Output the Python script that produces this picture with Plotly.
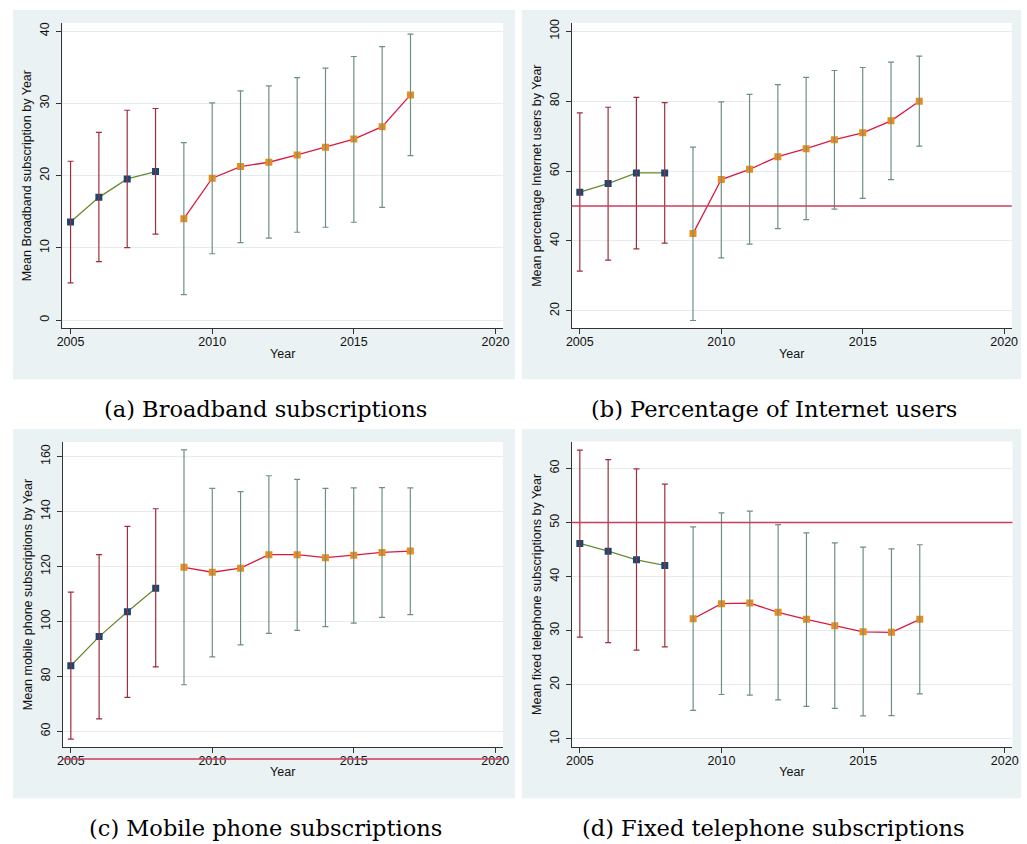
import plotly.graph_objects as go

years = [2005, 2006, 2007, 2008, 2009, 2010, 2011, 2012, 2013, 2014, 2015, 2016, 2017]
split_year = 2008  # first period ends here

# (a) Broadband subscriptions
bb_mean = [13.6, 17.0, 19.55, 20.57, 14.05, 19.65, 21.26, 21.86, 22.87, 23.93, 25.07, 26.78, 31.18]
bb_hi = [22.0, 26.0, 29.06, 29.3, 24.57, 30.08, 31.73, 32.42, 33.57, 34.9, 36.5, 37.88, 39.59]
bb_lo = [5.15, 8.1, 10.05, 11.9, 3.54, 9.19, 10.74, 11.35, 12.17, 12.86, 13.55, 15.62, 22.78]

# (b) Percentage of Internet users
iu_mean = [53.97, 56.44, 59.46, 59.46, 42.1, 57.58, 60.5, 64.13, 66.4, 68.97, 70.96, 74.38, 79.96]
iu_hi = [76.65, 78.26, 81.1, 79.59, 66.86, 79.78, 81.96, 84.71, 86.8, 88.78, 89.64, 91.17, 92.88]
iu_lo = [31.39, 34.52, 37.74, 39.36, 17.24, 35.17, 39.07, 43.52, 46.08, 49.12, 52.17, 57.58, 67.15]

# (c) Mobile phone subscriptions
mp_mean = [83.9, 94.5, 103.5, 112.1, 119.7, 117.9, 119.4, 124.3, 124.3, 123.2, 124.1, 125.1, 125.6]
mp_hi = [110.67, 124.3, 134.6, 141.0, 162.4, 148.4, 147.2, 153.0, 151.7, 148.4, 148.6, 148.7, 148.6]
mp_lo = [57.2, 64.6, 72.4, 83.5, 77.0, 87.1, 91.5, 95.7, 96.8, 98.1, 99.4, 101.5, 102.5]

# (d) Fixed telephone subscriptions
ft_mean = [46.13, 44.7, 43.1, 42.08, 32.2, 35.0, 35.1, 33.4, 32.1, 30.9, 29.8, 29.7, 32.1]
ft_hi = [63.4, 61.65, 59.93, 57.1, 49.2, 51.8, 52.1, 49.6, 48.1, 46.26, 45.45, 45.15, 45.9]
ft_lo = [28.83, 27.8, 26.4, 27.0, 15.27, 18.2, 18.1, 17.2, 16.0, 15.63, 14.23, 14.3, 18.3]

ref_value = 50

panels = [
    dict(mean=bb_mean, hi=bb_hi, lo=bb_lo, ytitle="Mean Broadband subscription by Year",
         yticks=[0, 10, 20, 30, 40], yrange=[-1.15, 41.15], ref=False,
         caption="(a) Broadband subscriptions"),
    dict(mean=iu_mean, hi=iu_hi, lo=iu_lo, ytitle="Mean percentage Internet users by Year",
         yticks=[20, 40, 60, 80, 100], yrange=[14.96, 102.4], ref=True,
         caption="(b) Percentage of Internet users"),
    dict(mean=mp_mean, hi=mp_hi, lo=mp_lo, ytitle="Mean mobile phone subscriptions by Year",
         yticks=[60, 80, 100, 120, 140, 160], yrange=[54.3, 165.3], ref=True,
         caption="(c) Mobile phone subscriptions"),
    dict(mean=ft_mean, hi=ft_hi, lo=ft_lo, ytitle="Mean fixed telephone subscriptions by Year",
         yticks=[10, 20, 30, 40, 50, 60], yrange=[8.46, 64.97], ref=True,
         caption="(d) Fixed telephone subscriptions"),
]

W, H = 1027, 844
# pixel boxes: plot area (x0, x1, ytop, ybottom) and background region
plot_boxes = [(57, 503, 19, 326), (572.3, 1017.7, 19, 326),
              (57.3, 502.7, 440, 746.7), (572.3, 1018.3, 439.7, 746.7)]
bg_boxes = [(7, 515, 6, 377), (522, 1027, 6, 377), (7, 515, 427, 798), (522, 1027, 427, 798)]
caption_pos = [(263, 407), (777, 407), (263, 828), (777, 828)]

NAVY = "#1a476f"
OLIVE = "#6a8a2e"
ORANGE = "#ea8d1e"
CRIMSON = "#d81b45"
BAR_RED = "#9e2f3a"
BAR_GREEN = "#6f8f84"
REF = "#cc3d5c"
BG = "#eaf2f3"
GRID = "#e4eced"
AXC = "#333333"
FONT = "Liberation Sans"

fig = go.Figure()
shapes = []
annotations = []

for i, p in enumerate(panels):
    n = "" if i == 0 else str(i + 1)
    xa, ya = "x" + n, "y" + n
    first = [k for k, yr in enumerate(years) if yr <= split_year]
    second = [k for k, yr in enumerate(years) if yr > split_year]

    for idx, mcol, lcol in [(first, NAVY, OLIVE), (second, ORANGE, CRIMSON)]:
        xs = [years[k] for k in idx]
        ys = [p["mean"][k] for k in idx]
        fig.add_trace(go.Scatter(
            x=xs, y=ys, xaxis=xa, yaxis=ya, mode="lines+markers",
            line=dict(color=lcol, width=1.3),
            marker=dict(symbol="square", size=7, color=mcol, line=dict(width=0)),
            showlegend=False, hoverinfo="skip"))
    for idx, bcol in [(first, BAR_RED), (second, BAR_GREEN)]:
        xs = [years[k] for k in idx]
        ys = [p["mean"][k] for k in idx]
        up = [p["hi"][k] - p["mean"][k] for k in idx]
        dn = [p["mean"][k] - p["lo"][k] for k in idx]
        fig.add_trace(go.Scatter(
            x=xs, y=ys, xaxis=xa, yaxis=ya, mode="markers",
            marker=dict(size=1, opacity=0),
            error_y=dict(type="data", symmetric=False, array=up, arrayminus=dn,
                         color=bcol, thickness=1.2, width=3),
            showlegend=False, hoverinfo="skip"))

    x0, x1, yt, yb = plot_boxes[i]
    dom_x = [x0 / W, x1 / W]
    dom_y = [1 - yb / H, 1 - yt / H]
    axis_common = dict(showline=True, linecolor=AXC, linewidth=1, ticks="outside",
                       ticklen=5, tickcolor=AXC, zeroline=False,
                       tickfont=dict(family=FONT, size=12.5, color="#111"))
    fig.update_layout(**{
        ("xaxis" + n): dict(domain=dom_x, anchor=ya, range=[2004.71, 2020.27],
                            tickvals=[2005, 2010, 2015, 2020], showgrid=False,
                            ticklabelstandoff=-3,
                            title=dict(text="Year", font=dict(family=FONT, size=12.5, color="#111"),
                                       standoff=0),
                            **axis_common),
        ("yaxis" + n): dict(domain=dom_y, anchor=xa, range=p["yrange"], tickvals=p["yticks"],
                            tickangle=-90, showgrid=True, gridcolor=GRID, gridwidth=1,
                            ticklabelstandoff=2,
                            title=dict(text=p["ytitle"], font=dict(family=FONT, size=12.5, color="#111"),
                                       standoff=3),
                            **axis_common),
    })

    bx0, bx1, byt, byb = bg_boxes[i]
    shapes.append(dict(type="rect", xref="paper", yref="paper", x0=bx0 / W, x1=bx1 / W,
                       y0=1 - byb / H, y1=1 - byt / H, fillcolor=BG, line=dict(width=0),
                       layer="below"))
    shapes.append(dict(type="rect", xref=xa + " domain", yref=ya + " domain", x0=0, x1=1,
                       y0=0, y1=1, fillcolor="white", line=dict(width=0), layer="below"))
    if p["ref"]:
        r0, r1 = p["yrange"]
        if r0 <= ref_value <= r1:
            yref_line, yv = ya, ref_value
        else:
            # line lies outside the axis range: map it to paper space via the axis scale
            yref_line = "paper"
            yv = dom_y[0] + (ref_value - r0) / (r1 - r0) * (dom_y[1] - dom_y[0])
        shapes.append(dict(type="line", xref=xa + " domain", yref=yref_line, x0=0, x1=1,
                           y0=yv, y1=yv, line=dict(color=REF, width=1.5),
                           layer="above"))
    cx, cy = caption_pos[i]
    annotations.append(dict(text=p["caption"], xref="paper", yref="paper", x=cx / W, y=1 - cy / H,
                            showarrow=False, xanchor="center", yanchor="middle",
                            font=dict(family="DejaVu Serif", size=22.5, color="#000")))

fig.update_layout(width=W, height=H, margin=dict(l=0, r=0, t=0, b=0),
                  paper_bgcolor="white", plot_bgcolor="white",
                  shapes=shapes, annotations=annotations)

fig.write_html("out.html", config={"displayModeBar": False},
               post_script="document.body.style.margin='0';document.body.style.overflow='hidden';")
